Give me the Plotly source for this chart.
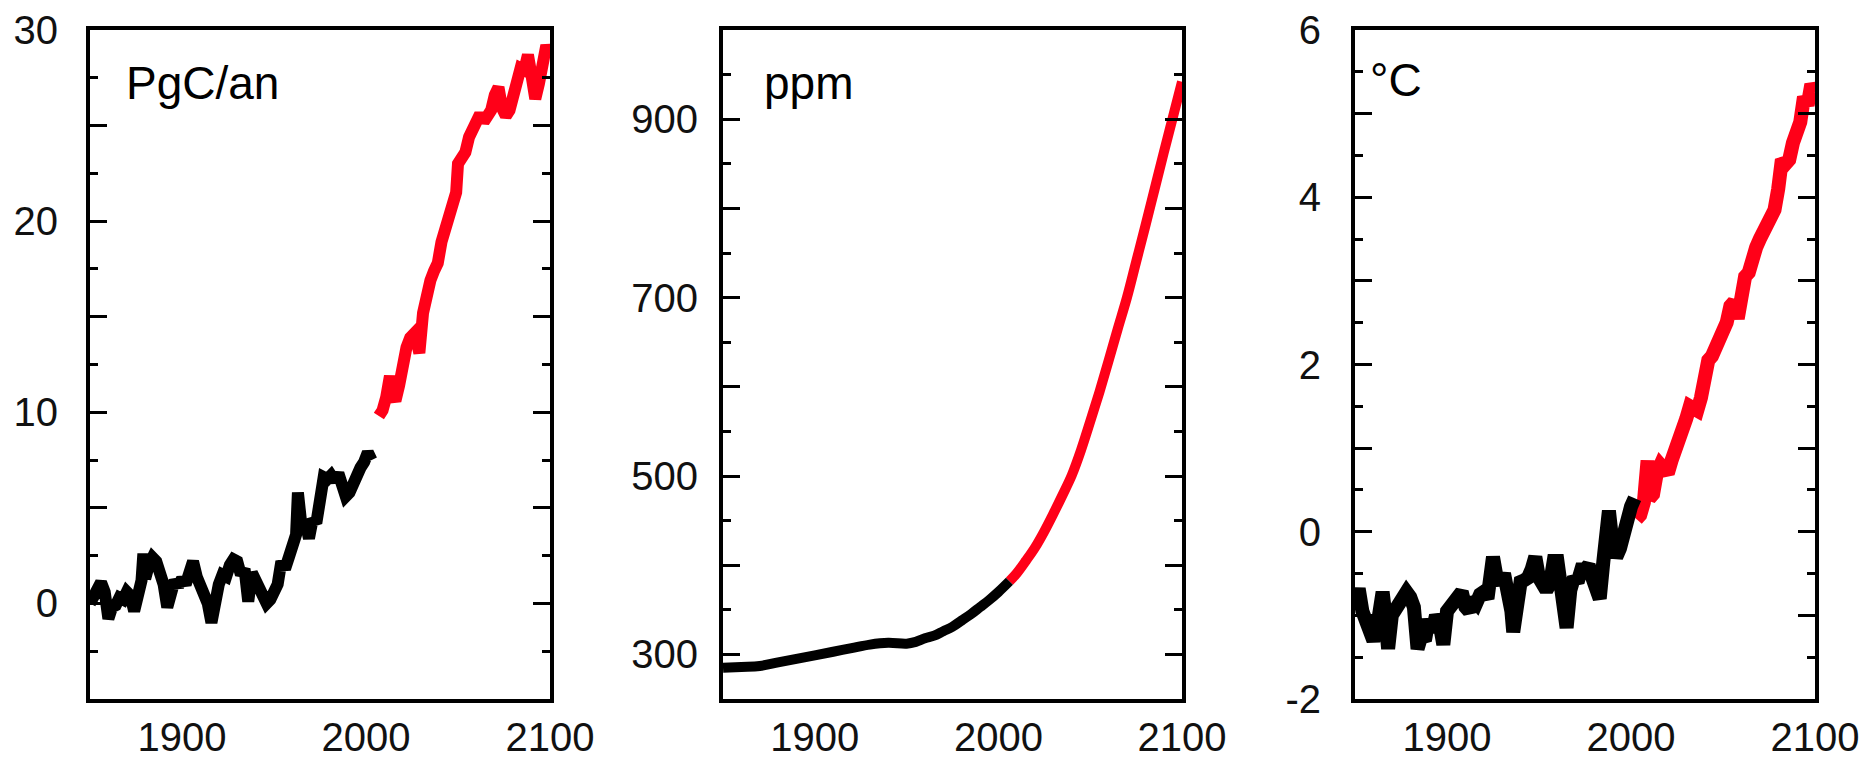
import plotly.graph_objects as go

# --- Emissions (PgC/an) ---
emis_hist_years = [1850, 1852, 1854, 1856, 1858, 1860, 1862, 1864, 1866, 1868, 1870, 1872, 1874, 1876,
                   1878, 1879, 1880, 1882, 1884, 1886, 1888, 1890, 1892, 1894, 1896, 1898, 1900, 1902,
                   1904, 1906, 1908, 1910, 1912, 1914, 1916, 1918, 1920, 1922, 1924, 1926, 1928, 1930,
                   1932, 1934, 1936, 1938, 1940, 1942, 1944, 1946, 1948, 1950, 1952, 1954, 1956, 1958,
                   1960, 1962, 1963, 1965, 1967, 1969, 1971, 1973, 1975, 1977, 1979, 1981, 1983, 1985,
                   1987, 1989, 1991, 1993, 1995, 1997, 1999, 2001, 2003]
emis_hist_vals = [0.0, 0.5, 0.9, 1.1, 0.6, -0.8, -0.2, -0.1, 0.3, 0.2, 0.6, 0.4, -0.4, 0.5,
                  1.2, 2.6, 1.3, 2.0, 2.4, 2.2, 1.6, 1.0, -0.2, 0.8, 1.2, 0.9, 1.3, 1.0,
                  1.6, 2.2, 1.4, 0.9, 0.6, 0.0, -1.0, 0.4, 1.0, 1.5, 1.4, 2.0, 2.3, 2.2,
                  1.5, 1.8, 0.1, 1.6, 1.2, 0.8, 0.4, 0.0, 0.2, 0.5, 1.0, 2.2, 1.8, 2.4,
                  3.0, 3.6, 5.8, 4.0, 4.3, 3.4, 4.4, 4.2, 5.4, 6.6, 6.5, 6.7, 6.4, 6.8,
                  6.2, 5.6, 5.8, 6.4, 6.8, 7.1, 7.4, 7.9, 7.5]
emis_proj_years = [2007, 2009, 2011, 2013, 2014, 2016, 2018, 2020, 2022, 2024, 2026, 2028, 2029,
                   2031, 2033, 2035, 2037, 2039, 2041, 2043, 2045, 2047, 2049, 2050, 2052, 2054,
                   2056, 2058, 2060, 2062, 2064, 2066, 2068, 2070, 2072, 2074, 2076, 2078, 2080,
                   2082, 2084, 2086, 2088, 2090, 2092, 2094, 2096, 2098, 2100]
emis_proj_vals = [9.8, 10.1, 10.8, 11.9, 11.0, 10.6, 11.4, 12.6, 13.4, 13.9, 14.1, 13.5, 13.1,
                  15.2, 16.3, 16.9, 17.4, 17.8, 18.9, 19.6, 20.4, 21.0, 21.5, 23.0, 23.3, 23.6,
                  24.4, 24.8, 25.5, 25.6, 25.2, 25.5, 25.8, 26.6, 27.0, 25.9, 25.5, 25.8, 26.6,
                  27.5, 28.0, 27.9, 28.7, 27.6, 26.4, 27.2, 28.6, 29.2, 28.5]

# --- CO2 concentration (ppm) ---
co2_hist_years = [1850, 1860, 1870, 1880, 1890, 1900, 1910, 1920, 1930, 1940, 1950, 1955,
                  1960, 1965, 1970, 1975, 1980, 1985, 1990, 1995, 2000, 2006]
co2_hist_vals = [285, 286, 287, 291, 295, 299, 303, 307, 311, 313, 312, 314,
                 318, 321, 326, 331, 338, 345, 353, 361, 370, 382]
co2_proj_years = [2006, 2010, 2015, 2020, 2025, 2030, 2035, 2040, 2045, 2050, 2055, 2060,
                  2065, 2070, 2075, 2080, 2085, 2090, 2095, 2100]
co2_proj_vals = [382, 391, 405, 420, 438, 458, 479, 501, 529, 561, 594, 629,
                 665, 700, 740, 780, 821, 862, 902, 942]

# --- Temperature (°C) ---
temp_hist_years = [1850, 1852, 1854, 1856, 1858, 1860, 1862, 1864, 1865, 1866, 1868, 1870, 1872,
                   1874, 1876, 1878, 1880, 1882, 1884, 1886, 1888, 1890, 1892, 1894, 1896, 1898,
                   1900, 1902, 1904, 1906, 1908, 1910, 1912, 1914, 1916, 1918, 1920, 1922, 1924,
                   1925, 1927, 1929, 1931, 1933, 1935, 1936, 1938, 1940, 1942, 1944, 1946, 1948,
                   1950, 1952, 1954, 1956, 1958, 1960, 1962, 1964, 1965, 1967, 1969, 1971, 1973,
                   1975, 1977, 1979, 1981, 1983, 1985, 1987, 1988, 1990, 1992, 1994, 1996, 1998,
                   2000, 2002]
temp_hist_vals = [-0.88, -0.68, -0.95, -1.10, -1.25, -1.30, -1.15, -0.85, -0.72, -0.90, -1.40, -1.00, -0.92,
                  -0.85, -0.75, -0.72, -0.78, -0.90, -1.40, -1.25, -1.30, -1.05, -1.20, -1.00, -1.10, -1.35,
                  -0.95, -0.90, -0.85, -0.80, -0.72, -0.90, -0.95, -0.80, -0.85, -0.75, -0.72, -0.80, -0.55,
                  -0.30, -0.55, -0.62, -0.50, -0.70, -0.95, -1.20, -0.70, -0.60, -0.58, -0.55, -0.45, -0.30,
                  -0.55, -0.60, -0.70, -0.62, -0.35, -0.35, -0.70, -0.95, -1.15, -0.70, -0.55, -0.60, -0.45,
                  -0.45, -0.40, -0.55, -0.65, -0.80, -0.35, -0.10, 0.25, -0.15, -0.30, -0.20, 0.00, 0.15,
                  0.30, 0.40]
temp_proj_years = [2003, 2005, 2007, 2009, 2010, 2012, 2014, 2016, 2018, 2020, 2022, 2024, 2026,
                   2028, 2030, 2032, 2034, 2036, 2038, 2040, 2042, 2044, 2046, 2048, 2050, 2052,
                   2054, 2056, 2058, 2060, 2062, 2064, 2066, 2068, 2070, 2072, 2074, 2076, 2078,
                   2080, 2082, 2084, 2086, 2088, 2090, 2092, 2094, 2096, 2098, 2100]
temp_proj_vals = [0.15, 0.20, 0.35, 0.85, 0.40, 0.45, 0.70, 0.80, 0.75, 0.70, 0.85, 0.95, 1.05,
                  1.20, 1.35, 1.50, 1.45, 1.45, 1.60, 2.00, 2.05, 2.10, 2.20, 2.25, 2.35, 2.50,
                  2.70, 2.75, 2.55, 2.95, 3.05, 3.10, 3.35, 3.40, 3.50, 3.60, 3.70, 3.80, 3.85,
                  4.10, 4.45, 4.40, 4.45, 4.65, 4.75, 4.90, 5.20, 5.10, 5.35, 5.25]

# Axis tick layout per panel
x_ticks = [1900, 2000, 2100]
emis_major = [-5, 0, 5, 10, 15, 20, 25, 30]
emis_labels = ["", "0", "", "10", "", "20", "", "30"]
co2_major = [300, 400, 500, 600, 700, 800, 900, 1000]
co2_labels = ["300", "", "500", "", "700", "", "900", ""]
temp_major = [-2, -1, 0, 1, 2, 3, 4, 5, 6]
temp_labels = ["-2", "", "0", "", "2", "", "4", "", "6"]
units = ["PgC/an", "ppm", "°C"]

BLACK = "#000000"
RED = "#ff0018"
FONT = "Arial, Liberation Sans, Helvetica, sans-serif"
W, H = 1868, 760

fig = go.Figure()

# (historical x, y, projection x, y, line width, line shape)
panels = [
    (emis_hist_years, emis_hist_vals, emis_proj_years, emis_proj_vals, 12, "linear"),
    (co2_hist_years, co2_hist_vals, co2_proj_years, co2_proj_vals, 10, "spline"),
    (temp_hist_years, temp_hist_vals, temp_proj_years, temp_proj_vals, 14, "linear"),
]
for i, (hx, hy, px, py, lw, shape) in enumerate(panels):
    xa = "x" if i == 0 else f"x{i + 1}"
    ya = "y" if i == 0 else f"y{i + 1}"
    fig.add_trace(go.Scatter(x=px, y=py, mode="lines", xaxis=xa, yaxis=ya,
                             line=dict(color=RED, width=lw, shape=shape),
                             showlegend=False, cliponaxis=False))
    fig.add_trace(go.Scatter(x=hx, y=hy, mode="lines", xaxis=xa, yaxis=ya,
                             line=dict(color=BLACK, width=lw, shape=shape),
                             showlegend=False, cliponaxis=False))

# pixel frames of the three panels (left, right)
frames = [(90, 550), (723, 1182), (1355, 1815)]
top_px, bottom_px = 30, 699
ydom = [1 - bottom_px / H, 1 - top_px / H]

yspecs = [
    (emis_major, emis_labels, [-5, 30], 2.5, 20),
    (co2_major, co2_labels, [250, 1000], 50, 13),
    (temp_major, temp_labels, [-2, 6], 0.5, 22),
]

layout = dict(
    width=W, height=H,
    margin=dict(l=0, r=0, t=0, b=0, autoexpand=False),
    paper_bgcolor="white", plot_bgcolor="white",
    font=dict(family=FONT, size=40, color="#111111"),
)

for i, ((l, r), (major, labels, yr, minor_step, standoff)) in enumerate(zip(frames, yspecs)):
    sx = "xaxis" if i == 0 else f"xaxis{i + 1}"
    sy = "yaxis" if i == 0 else f"yaxis{i + 1}"
    anchor_x = "y" if i == 0 else f"y{i + 1}"
    anchor_y = "x" if i == 0 else f"x{i + 1}"
    layout[sx] = dict(
        domain=[l / W, r / W], range=[1850, 2100], anchor=anchor_x, automargin=False,
        showline=True, linecolor=BLACK, linewidth=4, mirror=True,
        showgrid=False, zeroline=False, ticks="",
        tickmode="array", tickvals=x_ticks, ticktext=[str(v) for v in x_ticks],
        ticklabelstandoff=0,
    )
    layout[sy] = dict(
        domain=ydom, range=yr, anchor=anchor_y, automargin=False,
        showline=True, linecolor=BLACK, linewidth=4, mirror="allticks",
        showgrid=False, zeroline=False,
        ticks="inside", ticklen=17, tickwidth=3, tickcolor=BLACK,
        tickmode="array", tickvals=major, ticktext=labels,
        ticklabelstandoff=standoff,
        minor=dict(ticks="inside", ticklen=8, tickwidth=3, tickcolor=BLACK,
                   tickmode="linear", tick0=yr[0], dtick=minor_step, showgrid=False),
    )

fig.update_layout(**layout)

# unit labels in the upper-left corner of each panel
unit_pos = [(124, 83), (762, 83), (1368, 80)]
unit_sizes = [46, 46, 46]
for (px_, py_), text, fs in zip(unit_pos, units, unit_sizes):
    fig.add_annotation(x=px_ / W, y=1 - py_ / H, xref="paper", yref="paper",
                       text=text, showarrow=False, xanchor="left", yanchor="middle",
                       font=dict(family=FONT, size=fs, color=BLACK))

fig.write_html("out.html")
